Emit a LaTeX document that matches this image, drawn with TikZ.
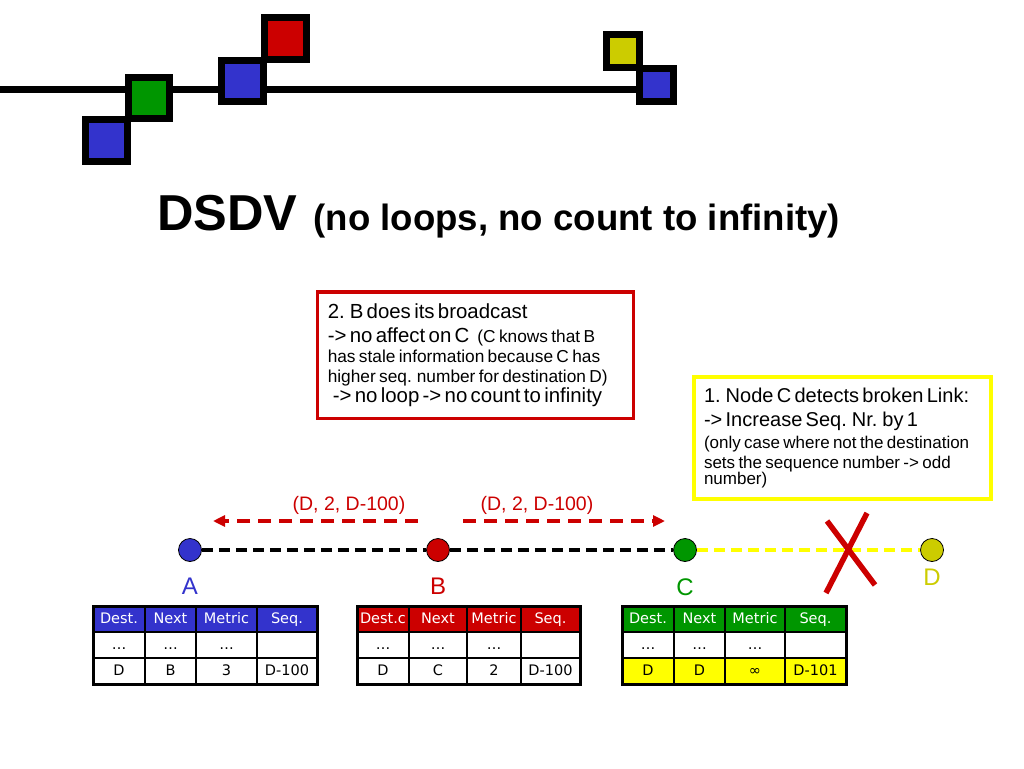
\documentclass[tikz,border=0pt]{standalone}
\usepackage{fontspec}
\setmainfont{Liberation Sans}
\newfontfamily\tblfont{DejaVu Sans}
\usetikzlibrary{arrows,arrows.meta,matrix,positioning}
\usepackage{xcolor}
\definecolor{dblue}{RGB}{51,51,204}
\definecolor{dred}{RGB}{204,0,0}
\definecolor{dgreen}{RGB}{0,150,0}
\definecolor{dyellow}{RGB}{204,204,0}
\definecolor{lyellow}{RGB}{255,255,0}
\setlength{\parindent}{0pt}

\begin{document}
\begin{tikzpicture}[x=1pt,y=-1pt]
\tikzstyle{deco} = [draw=black, line width=7pt]
\tikzstyle{station} = [circle, draw=black, line width=0.8pt, minimum size=23pt, inner sep=0pt]
\tikzstyle{stlabel} = [font=\fontsize{24}{28}\selectfont]
\tikzstyle{link} = [draw, line width=4pt, dash pattern=on 11pt off 6pt]
\tikzstyle{update} = [draw=dred, line width=3.5pt, dash pattern=on 13pt off 8pt, -{Triangle[length=12pt,width=11pt]}]
\tikzstyle{msg} = [text=dred, font=\fontsize{19.5}{22}\selectfont]
\tikzstyle{note} = [rectangle, anchor=north west, line width=3.5pt, inner xsep=10.5pt, align=left]
\tikzstyle{rtable} = [matrix of nodes, nodes in empty cells, column sep=-2pt, row sep=-2pt,
  inner sep=0pt, outer sep=0pt, anchor=north west,
  nodes={draw=black, line width=2pt, minimum height=26pt, text height=11pt, text depth=3pt,
  font=\tblfont\fontsize{14.5}{16}\selectfont}]
\useasboundingbox (0,0) rectangle (1024,768);

% logo
\draw[line width=7pt] (0,89.5) -- (640,89.5);
\draw[deco, fill=dblue] (85.5,119.5) rectangle (127.5,161.5);
\draw[deco, fill=dgreen] (128.5,77.5) rectangle (169.5,118.5);
\draw[deco, fill=dblue] (221.5,60.5) rectangle (263.5,101.5);
\draw[deco, fill=dred] (264.5,17.5) rectangle (306.5,59.5);
\draw[deco, fill=dyellow] (606.5,34.5) rectangle (639.5,67.5);
\draw[deco, fill=dblue] (639.5,68.5) rectangle (673.5,101.5);

% title
\node[anchor=base west, inner sep=0pt] (title) at (157,230)
  {\fontsize{50.5}{56}\selectfont\bfseries DSDV\hspace{16pt}\fontsize{36.6}{40}\selectfont (no loops, no count to infinity)};

% notes
\node[note, draw=dred, text width=295pt, minimum height=126.5pt] (bcast) at (315.5,290) {%
\fontsize{20.4}{24}\selectfont 2. B does its broadcast\par
\fontsize{20.4}{24}\selectfont -> no affect on C\hspace{8pt}\fontsize{17.3}{24}\selectfont(C knows that B\par
\fontsize{17.3}{20.5}\selectfont has stale information because C has\par
\fontsize{17.3}{20}\selectfont higher seq. number for destination D)\par
\fontsize{20.4}{24}\selectfont\hspace*{5pt}-> no loop -> no count to infinity};
\node[note, draw=lyellow, line width=4pt, text width=276.5pt, minimum height=122pt] (detect) at (691.5,375) {%
\fontsize{20}{24}\selectfont 1. Node C detects broken Link:\par
\fontsize{20}{24}\selectfont -> Increase Seq. Nr. by 1\par
\fontsize{17}{22}\selectfont (only case where not the destination\par
\fontsize{17}{20}\selectfont sets the sequence number -> odd\par
number)};

% stations
\node[station, fill=dblue] (A) at (190,550) {};
\node[station, fill=dred] (B) at (438,550) {};
\node[station, fill=dgreen] (C) at (685,550) {};
\node[station, fill=dyellow] (D) at (932,550) {};
\node[stlabel, text=dblue, below=13pt of A] (labA) {A};
\node[stlabel, text=dred, below=13pt of B] (labB) {B};
\node[stlabel, text=dgreen, below=13pt of C] (labC) {C};
\node[stlabel, text=dyellow, below=4pt of D] (labD) {D};

% links
\path[link] (A) -- (B);
\path[link] (B) -- (C);
\path[link, draw=lyellow] (C) -- (D);

% broken link
\draw[dred, line width=5.5pt] (827,521) -- (875,585);
\draw[dred, line width=5.5pt] (867,513) -- (826,593);

% broadcast of B
\coordinate (ba1) at (418,521);
\coordinate (ba2) at (213,521);
\coordinate (bc1) at (463,521);
\coordinate (bc2) at (665,521);
\path[update] (ba1) -- (ba2);
\path[update] (bc1) -- (bc2);
\node[msg] (msgA) at (349,505) {(D, 2, D-100)};
\node[msg] (msgC) at (537,505) {(D, 2, D-100)};

% tables
\matrix[rtable, row 1/.style={nodes={fill=dblue, text=white}},
  column 1/.style={nodes={minimum width=52pt}}, column 2/.style={nodes={minimum width=51pt}},
  column 3/.style={nodes={minimum width=61pt}}, column 4/.style={nodes={minimum width=60pt}}]
  (tA) at (92,605)
{
Dest. & Next & Metric & Seq. \\
… & … & … & \\
D & B & 3 & D-100 \\
};
\matrix[rtable, row 1/.style={nodes={fill=dred, text=white}},
  column 1/.style={nodes={minimum width=52pt}}, column 2/.style={nodes={minimum width=58pt}},
  column 3/.style={nodes={minimum width=54pt}}, column 4/.style={nodes={minimum width=59pt}}]
  (tB) at (356,605)
{
Dest.c & Next & Metric & Seq. \\
… & … & … & \\
D & C & 2 & D-100 \\
};
\matrix[rtable, row 1/.style={nodes={fill=dgreen, text=white}}, row 3/.style={nodes={fill=lyellow}},
  column 1/.style={nodes={minimum width=52pt}}, column 2/.style={nodes={minimum width=51pt}},
  column 3/.style={nodes={minimum width=60pt}}, column 4/.style={nodes={minimum width=61pt}}]
  (tC) at (621,605)
{
Dest. & Next & Metric & Seq. \\
… & … & … & \\
D & D & ∞ & D-101 \\
};
\draw[line width=3pt] (tA-1-1.north west) rectangle (tA-3-4.south east);
\draw[line width=3pt] (tB-1-1.north west) rectangle (tB-3-4.south east);
\draw[line width=3pt] (tC-1-1.north west) rectangle (tC-3-4.south east);
\end{tikzpicture}
\end{document}
